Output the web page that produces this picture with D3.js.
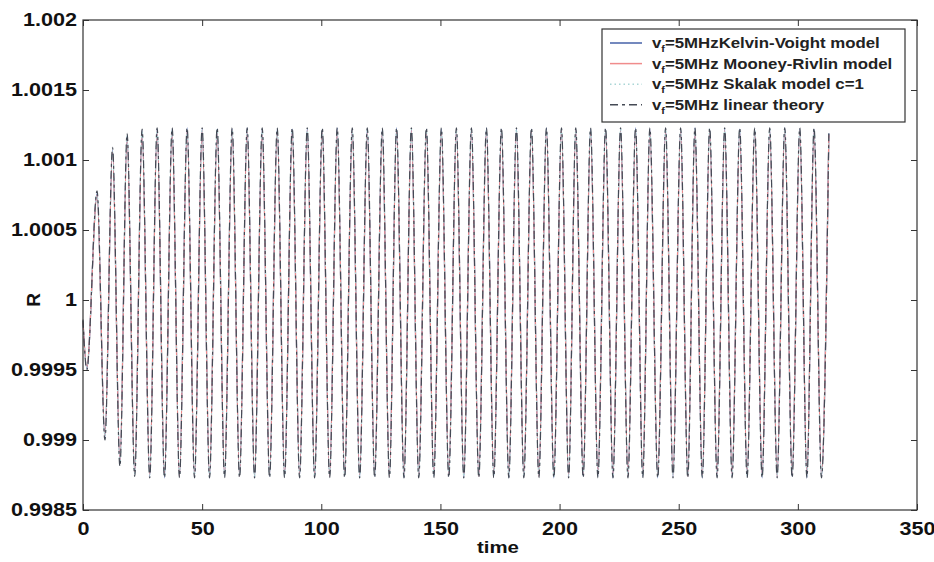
<!DOCTYPE html>
<html><head><meta charset="utf-8">
<script src="https://cdn.jsdelivr.net/npm/d3@7"></script>
<style>body{margin:0;background:#fff}svg{display:block}</style>
</head><body><svg id="c" width="934" height="562"></svg>
<script>
// knots (times of start, extrema)
const timeKnots = [0, 1.6, 5.9, 9.2, 12.4, 15.5, 18.5, 21.7, 24.8,
  28.0, 31.1, 34.2, 37.4, 40.5, 43.7, 46.8, 50.0, 53.1, 56.3, 59.4, 62.6, 65.7, 68.9, 72.0, 75.2, 78.3, 81.5, 84.6, 87.8,
  90.9, 94.1, 97.2, 100.4, 103.5, 106.7, 109.8, 113.0, 116.1, 119.3, 122.4, 125.6, 128.6, 131.6, 134.7, 137.8, 140.9, 144.1, 147.2, 150.4,
  153.5, 156.7, 159.8, 163.0, 166.1, 169.3, 172.4, 175.6, 178.7, 181.9, 185.0, 188.2, 191.3, 194.5, 197.6, 200.8, 203.8, 206.8, 209.9, 213.0,
  216.1, 219.3, 222.4, 225.6, 228.7, 231.9, 234.9, 237.9, 241.2, 244.5, 247.6, 250.8, 253.8, 256.8, 259.9, 263.0, 266.1, 269.3, 272.4, 275.6,
  278.7, 281.9, 285.0, 288.2, 291.3, 294.5, 297.6, 300.8, 303.8, 306.8, 309.9, 313.0];

const kelvinVoigt = [0.99985, 0.99951, 1.00076, 0.99902, 1.00107, 0.99883, 1.00117, 0.99876, 1.00121,
  0.99874,1.00122, 0.99873,1.00122, 0.99874,1.00123, 0.99874,1.00122, 0.99873,1.00122, 0.99874,1.00122, 0.99874,1.00123, 0.99873,1.00122, 0.99874,1.00122, 0.99874,1.00122,
  0.99874,1.00122, 0.99873,1.00122, 0.99874,1.00123, 0.99874,1.00122, 0.99873,1.00122, 0.99874,1.00122, 0.99874,1.00123, 0.99873,1.00122, 0.99874,1.00122, 0.99874,1.00122,
  0.99874,1.00122, 0.99873,1.00122, 0.99874,1.00123, 0.99874,1.00122, 0.99873,1.00122, 0.99874,1.00122, 0.99874,1.00123, 0.99873,1.00122, 0.99874,1.00122, 0.99874,1.00122,
  0.99874,1.00122, 0.99873,1.00122, 0.99874,1.00123, 0.99874,1.00122, 0.99873,1.00122, 0.99874,1.00122, 0.99874,1.00123, 0.99873,1.00122, 0.99874,1.00122, 0.99874,1.00122,
  0.99874,1.00122, 0.99873,1.00122, 0.99874,1.00123, 0.99874,1.00122, 0.99873,1.00122, 0.99874,1.00119];

const mooneyRivlin = [0.99985, 0.99952, 1.00075, 0.99903, 1.00106, 0.99884, 1.00116, 0.99877, 1.00120,
  0.99875,1.00121, 0.99875,1.00121, 0.99874,1.00121, 0.99875,1.00121, 0.99875,1.00120, 0.99875,1.00121, 0.99874,1.00121, 0.99875,1.00121, 0.99875,1.00121, 0.99875,1.00120,
  0.99875,1.00121, 0.99875,1.00121, 0.99874,1.00121, 0.99875,1.00121, 0.99875,1.00120, 0.99875,1.00121, 0.99874,1.00121, 0.99875,1.00121, 0.99875,1.00121, 0.99875,1.00120,
  0.99875,1.00121, 0.99875,1.00121, 0.99874,1.00121, 0.99875,1.00121, 0.99875,1.00120, 0.99875,1.00121, 0.99874,1.00121, 0.99875,1.00121, 0.99875,1.00121, 0.99875,1.00120,
  0.99875,1.00121, 0.99875,1.00121, 0.99874,1.00121, 0.99875,1.00121, 0.99875,1.00120, 0.99875,1.00121, 0.99874,1.00121, 0.99875,1.00121, 0.99875,1.00121, 0.99875,1.00120,
  0.99875,1.00121, 0.99875,1.00121, 0.99874,1.00121, 0.99875,1.00121, 0.99875,1.00120, 0.99875,1.00118];

const skalak = [0.99985, 0.99952, 1.00076, 0.99903, 1.00106, 0.99883, 1.00117, 0.99876, 1.00121,
  0.99875,1.00121, 0.99874,1.00122, 0.99875,1.00121, 0.99875,1.00121, 0.99874,1.00122, 0.99875,1.00121, 0.99875,1.00121, 0.99874,1.00122, 0.99875,1.00121, 0.99875,1.00121,
  0.99875,1.00121, 0.99874,1.00122, 0.99875,1.00121, 0.99875,1.00121, 0.99874,1.00122, 0.99875,1.00121, 0.99875,1.00121, 0.99874,1.00122, 0.99875,1.00121, 0.99875,1.00121,
  0.99875,1.00121, 0.99874,1.00122, 0.99875,1.00121, 0.99875,1.00121, 0.99874,1.00122, 0.99875,1.00121, 0.99875,1.00121, 0.99874,1.00122, 0.99875,1.00121, 0.99875,1.00121,
  0.99875,1.00121, 0.99874,1.00122, 0.99875,1.00121, 0.99875,1.00121, 0.99874,1.00122, 0.99875,1.00121, 0.99875,1.00121, 0.99874,1.00122, 0.99875,1.00121, 0.99875,1.00121,
  0.99875,1.00121, 0.99874,1.00122, 0.99875,1.00121, 0.99875,1.00121, 0.99874,1.00122, 0.99875,1.00118];

const linearTheory = [0.99986, 0.99950, 1.00078, 0.99900, 1.00109, 0.99881, 1.00119, 0.99874, 1.00122,
  0.99873,1.00123, 0.99873,1.00123, 0.99873,1.00123, 0.99873,1.00123, 0.99873,1.00123, 0.99873,1.00123, 0.99873,1.00123, 0.99873,1.00123, 0.99873,1.00123, 0.99873,1.00123,
  0.99873,1.00123, 0.99873,1.00123, 0.99873,1.00123, 0.99873,1.00123, 0.99873,1.00123, 0.99873,1.00123, 0.99873,1.00123, 0.99873,1.00123, 0.99873,1.00123, 0.99873,1.00123,
  0.99873,1.00123, 0.99873,1.00123, 0.99873,1.00123, 0.99873,1.00123, 0.99873,1.00123, 0.99873,1.00123, 0.99873,1.00123, 0.99873,1.00123, 0.99873,1.00123, 0.99873,1.00123,
  0.99873,1.00123, 0.99873,1.00123, 0.99873,1.00123, 0.99873,1.00123, 0.99873,1.00123, 0.99873,1.00123, 0.99873,1.00123, 0.99873,1.00123, 0.99873,1.00123, 0.99873,1.00123,
  0.99873,1.00123, 0.99873,1.00123, 0.99873,1.00123, 0.99873,1.00123, 0.99873,1.00123, 0.99873,1.00119];

const seriesNames = ["=5MHzKelvin-Voight model", "=5MHz Mooney-Rivlin model", "=5MHz Skalak model c=1", "=5MHz linear theory"];
const seriesColors = ["#4662a8", "#f08c8c", "#a9d6d6", "#454a55"];
const seriesDash = [null, null, "1.5,3", "8,4,3,4"];

const xTicks = [0, 50, 100, 150, 200, 250, 300, 350];
const yTicks = [0.9985, 0.999, 0.9995, 1, 1.0005, 1.001, 1.0015, 1.002];
const yTickLabels = ["0.9985", "0.999", "0.9995", "1", "1.0005", "1.001", "1.0015", "1.002"];
const xLabel = "time", yLabel = "R";

const W = 934, H = 562;
const m = {l: 83, r: 17, t: 20, b: 52};
const svg = d3.select("#c");
svg.append("rect").attr("width", W).attr("height", H).attr("fill", "#fff");

const x = d3.scaleLinear().domain([0, 350]).range([m.l, W - m.r]);
const y = d3.scaleLinear().domain([0.9985, 1.002]).range([H - m.b, m.t]);

const font = "'Liberation Sans', Arial, Helvetica, sans-serif";
const STRETCH = 1.2;
function stretch(sel, f) {
  sel.each(function () {
    const w = this.getComputedTextLength();
    d3.select(this).attr("textLength", w * f).attr("lengthAdjust", "spacingAndGlyphs");
  });
}

// series
const allSeries = [kelvinVoigt, mooneyRivlin, skalak, linearTheory];
const line = d3.line().x(d => x(d[0])).y(d => y(d[1])).curve(d3.curveMonotoneX);
const gLines = svg.append("g");
allSeries.forEach((vals, i) => {
  const pts = d3.zip(timeKnots, vals);
  gLines.append("path").datum(pts)
    .attr("d", line).attr("fill", "none")
    .attr("stroke", seriesColors[i]).attr("stroke-width", 1.2)
    .attr("stroke-dasharray", seriesDash[i]);
});

// axes with inward ticks, all four sides
function styleAxis(g) {
  g.select(".domain").remove();
  g.selectAll(".tick line").attr("stroke", "#333").attr("stroke-width", 1);
  g.selectAll("text").attr("font-family", font).attr("font-weight", "bold")
    .attr("font-size", 18).attr("fill", "#111");
}
const xAxisB = d3.axisBottom(x).tickValues(xTicks).tickSizeInner(-6).tickSizeOuter(0).tickPadding(12);
const gxb = svg.append("g").attr("transform", `translate(0,${H - m.b})`).call(xAxisB).call(styleAxis);
const xAxisT = d3.axisTop(x).tickValues(xTicks).tickSizeInner(-6).tickSizeOuter(0).tickFormat("");
svg.append("g").attr("transform", `translate(0,${m.t})`).call(xAxisT).call(styleAxis);
const yAxisL = d3.axisLeft(y).tickValues(yTicks).tickSizeInner(-6).tickSizeOuter(0).tickPadding(6)
  .tickFormat((d, i) => yTickLabels[i]);
const gyl = svg.append("g").attr("transform", `translate(${m.l},0)`).call(yAxisL).call(styleAxis);
const yAxisR = d3.axisRight(y).tickValues(yTicks).tickSizeInner(-6).tickSizeOuter(0).tickFormat("");
svg.append("g").attr("transform", `translate(${W - m.r},0)`).call(yAxisR).call(styleAxis);
stretch(gxb.selectAll("text"), STRETCH);
stretch(gyl.selectAll("text"), STRETCH);

// frame
svg.append("rect").attr("x", m.l).attr("y", m.t).attr("width", W - m.l - m.r).attr("height", H - m.t - m.b)
  .attr("fill", "none").attr("stroke", "#333").attr("stroke-width", 1.2);

// axis labels
const xl = svg.append("text").attr("x", (m.l + W - m.r) / 2 - 2).attr("y", 553).attr("text-anchor", "middle")
  .attr("font-family", font).attr("font-weight", "bold").attr("font-size", 17).attr("fill", "#111").text(xLabel);
stretch(xl, STRETCH);
svg.append("text").attr("transform", "translate(40,300) rotate(-90)").attr("text-anchor", "middle")
  .attr("font-family", font).attr("font-weight", "bold").attr("font-size", 19).attr("fill", "#111").text(yLabel);

// legend
const lg = svg.append("g");
lg.append("rect").attr("x", 602).attr("y", 29).attr("width", 303).attr("height", 93)
  .attr("fill", "#fff").attr("stroke", "#333").attr("stroke-width", 1.2);
seriesNames.forEach((name, i) => {
  const yy = 43 + i * 20.6;
  lg.append("line").attr("x1", 610).attr("x2", 642).attr("y1", yy).attr("y2", yy)
    .attr("stroke", seriesColors[i]).attr("stroke-width", 1.5).attr("stroke-dasharray", seriesDash[i]);
  const t = lg.append("text").attr("x", 652).attr("y", yy + 5)
    .attr("font-family", font).attr("font-weight", "bold").attr("font-size", 14).attr("fill", "#222");
  t.append("tspan").text("v");
  t.append("tspan").attr("font-size", 9).attr("dy", 4).text("f");
  t.append("tspan").attr("dy", -4).text(name);
  stretch(t, STRETCH);
});
</script>
</body></html>
